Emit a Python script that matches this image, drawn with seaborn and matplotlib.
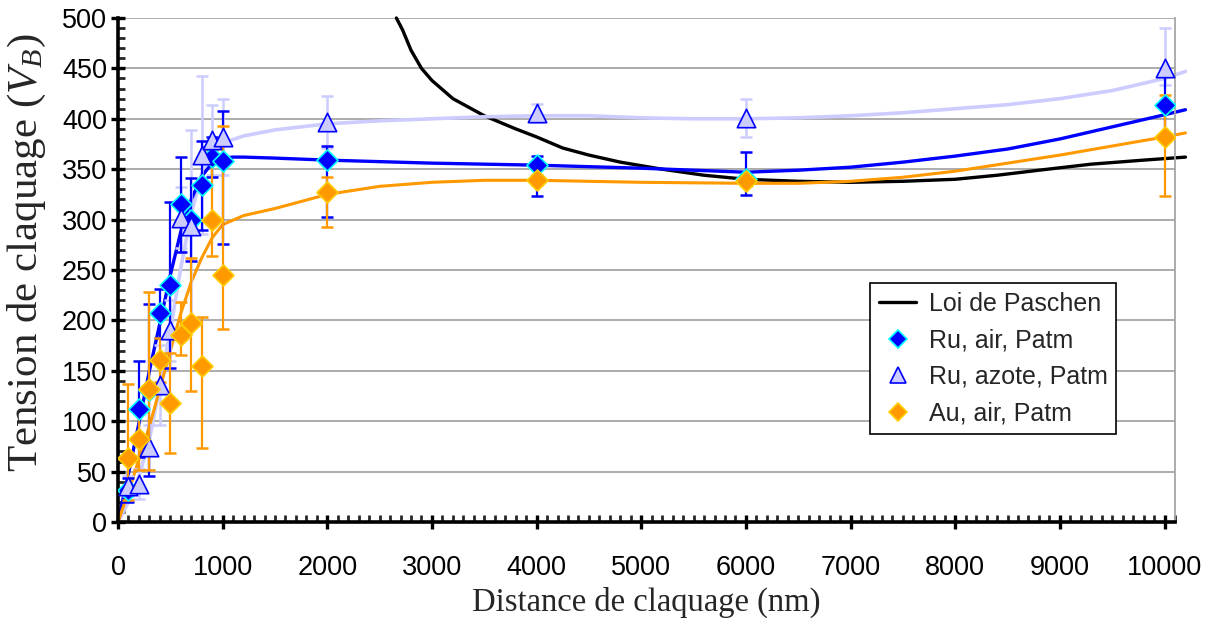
import numpy as np
import pandas as pd
import matplotlib
matplotlib.use('Agg')
import matplotlib.pyplot as plt
from matplotlib.lines import Line2D
from matplotlib.ticker import MultipleLocator
import seaborn as sns

# ---------------- data ----------------
# Ru, air, Patm
ru_air_x = [100, 200, 300, 400, 500, 600, 700, 800, 900, 1000, 2000, 4000, 6000, 10000]
ru_air_y = [32, 112, 131, 207, 235, 315, 300, 334, 362, 358, 359, 354, 340, 414]
ru_air_lo = [12, 48, 85, 24, 82, 47, 41, 44, 20, 82, 56, 31, 16, 30]
ru_air_hi = [12, 48, 85, 24, 82, 47, 41, 44, 20, 50, 14, 9, 27, 30]

# Ru, azote, Patm
ru_az_x = [100, 200, 300, 400, 500, 600, 700, 800, 900, 1000, 2000, 4000, 6000, 10000]
ru_az_y = [36, 38, 74, 136, 190, 302, 294, 364, 379, 382, 397, 406, 401, 450]
ru_az_lo = [10, 15, 22, 40, 30, 30, 95, 78, 35, 38, 26, 9, 19, 16]
ru_az_hi = [10, 15, 22, 40, 30, 30, 95, 78, 35, 38, 26, 9, 19, 40]

# Au, air, Patm
au_x = [100, 200, 300, 400, 500, 600, 700, 800, 900, 1000, 2000, 4000, 6000, 10000]
au_y = [63, 82, 132, 161, 118, 186, 197, 155, 300, 245, 327, 339, 338, 382]
au_lo = [41, 30, 80, 22, 50, 20, 67, 82, 36, 54, 34, 5, 5, 59]
au_hi = [74, 30, 96, 22, 50, 32, 65, 48, 69, 148, 15, 5, 5, 42]

# smoothed trend curves
fit_ru_air_x = [0, 100, 200, 300, 400, 500, 600, 700, 800, 900, 1000, 1100, 1200, 1500,
                2000, 3000, 4000, 5000, 5500, 6000, 6500, 7000, 7500, 8000, 8500,
                9000, 9500, 10000, 10200]
fit_ru_air_y = [0, 48, 98, 150, 197, 245, 288, 320, 343, 356, 361, 362, 362, 361,
                359, 356, 354, 351, 349, 347, 349, 352, 357, 363, 370,
                380, 392, 404, 409]

fit_ru_az_x = [0, 100, 200, 300, 400, 500, 600, 700, 800, 900, 1000, 1200, 1500, 2000,
               2500, 3000, 3500, 4000, 4500, 5000, 5500, 6000, 6500, 7000, 7500, 8000,
               8500, 9000, 9500, 10000, 10200]
fit_ru_az_y = [0, 20, 45, 82, 135, 190, 252, 306, 345, 366, 376, 383, 389, 395,
               398, 400, 402, 403, 403, 401, 400, 400, 401, 403, 406, 410,
               414, 420, 428, 440, 447]

fit_au_x = [0, 100, 200, 300, 400, 500, 600, 700, 800, 900, 1000, 1200, 1500, 2000,
            2500, 3000, 3500, 4000, 5000, 6000, 6500, 7000, 7500, 8000, 8500, 9000,
            9500, 10000, 10200]
fit_au_y = [0, 30, 62, 95, 132, 170, 207, 238, 262, 282, 295, 304, 311, 325,
            333, 337, 339, 339, 337, 336, 336, 338, 342, 348, 356, 364,
            373, 382, 386]

paschen_x = [2660, 2720, 2800, 2900, 3000, 3200, 3500, 3800, 4000, 4250, 4500, 4800,
             5200, 5600, 6000, 6500, 7000, 7500, 8000, 8400, 8800, 9300, 9800, 10200]
paschen_y = [500, 488, 468, 450, 438, 420, 403, 390, 382, 371, 364, 357,
             350, 344, 340, 338, 337, 338, 340, 344, 349, 355, 359, 362]

legend_labels = ["Loi de Paschen", "Ru, air, Patm", "Ru, azote, Patm", "Au, air, Patm"]

# ---------------- style ----------------
sns.set_style('white')
plt.rcParams['font.family'] = ['Liberation Sans', 'DejaVu Sans']
plt.rcParams['mathtext.fontset'] = 'custom'
plt.rcParams['mathtext.rm'] = 'Liberation Serif'
plt.rcParams['mathtext.it'] = 'Liberation Serif:italic'

BLUE = '#0000FF'
CYAN = '#00FFFF'
LAV = '#CCCCFF'
ORANGE = '#FF9900'
YEL = '#FFCC00'

W, H = 1210, 623
fig = plt.figure(figsize=(W / 100, H / 100), dpi=100)
ax = fig.add_axes([118 / W, 1 - 522 / H, (1175 - 118) / W, (522 - 18) / H])

# curves
for xs, ys, col, lw in [(paschen_x, paschen_y, 'black', 2.4),
                        (fit_ru_az_x, fit_ru_az_y, LAV, 2.6),
                        (fit_ru_air_x, fit_ru_air_y, BLUE, 2.4),
                        (fit_au_x, fit_au_y, ORANGE, 2.2)]:
    n0 = len(ax.lines)
    sns.lineplot(x=xs, y=ys, sort=False, estimator=None, color=col, linewidth=lw,
                 ax=ax, legend=False)
    for ln in ax.lines[n0:]:
        ln.set_clip_on(False)
        ln.set_zorder(2)
        ln.set_solid_joinstyle('round')

# error bars
ax.errorbar(ru_az_x, ru_az_y, yerr=[ru_az_lo, ru_az_hi], fmt='none', ecolor=LAV,
            elinewidth=1.8, capsize=4, capthick=1.8, zorder=3)
ax.errorbar(ru_air_x, ru_air_y, yerr=[ru_air_lo, ru_air_hi], fmt='none', ecolor=BLUE,
            elinewidth=1.6, capsize=4, capthick=1.8, zorder=3)
ax.errorbar(au_x, au_y, yerr=[au_lo, au_hi], fmt='none', ecolor=ORANGE,
            elinewidth=1.6, capsize=4, capthick=1.8, zorder=3)

# markers
sns.scatterplot(x=ru_air_x, y=ru_air_y, marker='D', s=115, color=BLUE, edgecolor=CYAN,
                linewidth=1.2, ax=ax, zorder=4, legend=False)
sns.scatterplot(x=ru_az_x, y=ru_az_y, marker='^', s=175, color=LAV, edgecolor=BLUE,
                linewidth=1.2, ax=ax, zorder=4, legend=False)
sns.scatterplot(x=au_x, y=au_y, marker='D', s=115, color=ORANGE, edgecolor=YEL,
                linewidth=1.2, ax=ax, zorder=4, legend=False)

# axes
ax.set_xlim(0, 10100)
ax.set_ylim(0, 500)
ax.xaxis.set_major_locator(MultipleLocator(1000))
ax.xaxis.set_minor_locator(MultipleLocator(100))
ax.yaxis.set_major_locator(MultipleLocator(50))
ax.yaxis.set_minor_locator(MultipleLocator(10))
ax.grid(axis='y', which='major', color='#A6A6A6', linewidth=1.3)
ax.grid(axis='x', visible=False)
ax.set_axisbelow(True)

for side in ['left', 'bottom']:
    ax.spines[side].set_color('black')
    ax.spines[side].set_linewidth(2.6)
ax.spines['top'].set_visible(False)
ax.spines['right'].set_color('#A6A6A6')
ax.spines['right'].set_linewidth(1.3)

ax.tick_params(axis='both', which='major', direction='inout', length=10, width=2.4,
               labelsize=19.5, colors='black', left=True, bottom=True)
ax.tick_params(axis='both', which='minor', direction='in', length=5, width=2,
               left=True, bottom=True)
ax.tick_params(axis='x', which='major', pad=19)
ax.tick_params(axis='y', which='major', pad=3)

ax.set_xlabel('Distance de claquage (nm)', family='Liberation Serif', fontsize=23.5)
ax.xaxis.set_label_coords(0.5, -0.128)
ax.set_ylabel('Tension de claquage ($V_B$)', family='Liberation Serif', fontsize=31)
ax.yaxis.set_label_coords(-0.066, 0.534)

handles = [
    Line2D([], [], color='black', linewidth=2.4),
    Line2D([], [], linestyle='none', marker='D', markersize=9, markerfacecolor=BLUE,
           markeredgecolor=CYAN, markeredgewidth=1.2),
    Line2D([], [], linestyle='none', marker='^', markersize=11, markerfacecolor=LAV,
           markeredgecolor=BLUE, markeredgewidth=1.2),
    Line2D([], [], linestyle='none', marker='D', markersize=9, markerfacecolor=ORANGE,
           markeredgecolor=YEL, markeredgewidth=1.2),
]
leg = ax.legend(handles, legend_labels, loc='upper left',
                bbox_to_anchor=(870 / W, 1 - 283 / H), bbox_transform=fig.transFigure,
                frameon=True, fancybox=False, edgecolor='black', framealpha=1,
                fontsize=18, handlelength=1.5, handletextpad=0.5, borderpad=0.35,
                labelspacing=0.5, borderaxespad=0)
leg.get_frame().set_linewidth(1.2)
leg.set_zorder(10)

fig.savefig('out.png', dpi=100)
